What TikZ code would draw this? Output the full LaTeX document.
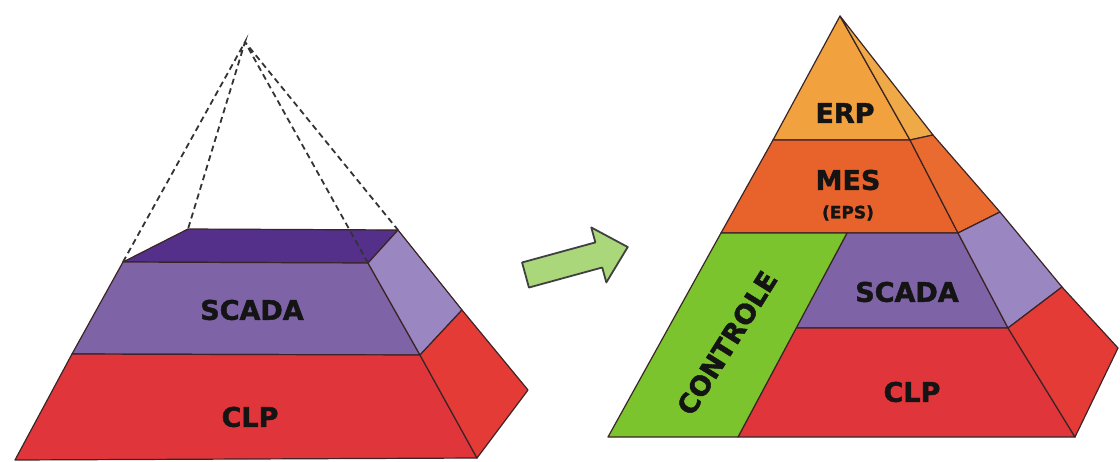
\documentclass[tikz,border=0pt]{standalone}
\usepackage{fontspec}
\setmainfont{DejaVu Sans}[BoldFeatures={FakeBold=1.6}]
\definecolor{scadafront}{HTML}{7E64A6}
\definecolor{scadaside}{HTML}{9A86C0}
\definecolor{scadatop}{HTML}{55308A}
\definecolor{clpfront}{HTML}{E0353B}
\definecolor{clpside}{HTML}{E43B36}
\definecolor{erpfront}{HTML}{F1A23F}
\definecolor{erpside}{HTML}{F0A947}
\definecolor{mesfront}{HTML}{E8632B}
\definecolor{messide}{HTML}{E96B30}
\definecolor{ctrlgreen}{HTML}{7CC42E}
\definecolor{arrowgreen}{HTML}{A9D77A}
\definecolor{edge}{HTML}{3B2426}
\begin{document}
\begin{tikzpicture}[x=1pt,y=-1pt,
    face/.style={draw=edge,line width=1.2pt,line join=round},
    guide/.style={draw=black!80,dash pattern=on 6pt off 4pt,line width=1.8pt},
    lbl/.style={font=\bfseries\fontsize{27}{29}\selectfont,text=black!92}]
  \useasboundingbox (0,0) rectangle (1120,461);
  % left pyramid
  \coordinate (LA) at (245,42);
  \coordinate (LTL) at (123,262);
  \coordinate (LTR) at (368,263);
  \coordinate (LBL) at (188,229);
  \coordinate (LBR) at (398,230);
  \coordinate (LML) at (72,354);
  \coordinate (LMR) at (420,355);
  \coordinate (LSM) at (462,310);
  \coordinate (LSB) at (528,390);
  \coordinate (LDL) at (15,460);
  \coordinate (LDR) at (477,458);
  \fill[face,fill=scadatop] (LTL) -- (LBL) -- (LBR) -- (LTR) -- cycle;
  \fill[face,fill=scadafront] (LTL) -- (LTR) -- (LMR) -- (LML) -- cycle;
  \fill[face,fill=scadaside] (LTR) -- (LBR) -- (LSM) -- (LMR) -- cycle;
  \fill[face,fill=clpfront] (LML) -- (LMR) -- (LDR) -- (LDL) -- cycle;
  \fill[face,fill=clpside] (LMR) -- (LSM) -- (LSB) -- (LDR) -- cycle;
  \draw[guide] (LTL) -- (LA) -- (LBL);
  \draw[guide] (LTR) -- (LA) -- (LBR);
  \node[lbl] (lscada) at (252,310) {SCADA};
  \node[lbl] (lclp) at (250,417) {CLP};
  % arrow
  \begin{scope}[shift={(525.5,275)},rotate=15.3]
    \filldraw[fill=arrowgreen,draw=black!75,line width=1.8pt,line join=round]
      (0,-13) -- (76,-13) -- (76,-28.5) -- (106,0) -- (76,28.5) -- (76,13) -- (0,13) -- cycle;
  \end{scope}
  % right pyramid
  \coordinate (RA) at (840,16);
  \coordinate (F1) at (910,140);
  \coordinate (F2) at (958,233);
  \coordinate (F3) at (1008,328);
  \coordinate (F4) at (1075,437);
  \coordinate (B1) at (933,135);
  \coordinate (B2) at (1000,212);
  \coordinate (B3) at (1062,287);
  \coordinate (B4) at (1118,348);
  \coordinate (E1) at (773,140);
  \coordinate (E2) at (721,233);
  \coordinate (E4) at (608,437);
  \coordinate (G2) at (847,233);
  \coordinate (G3) at (796,328);
  \coordinate (G4) at (738,437);
  \fill[face,fill=erpfront] (RA) -- (F1) -- (E1) -- cycle;
  \fill[face,fill=erpside] (RA) -- (B1) -- (F1) -- cycle;
  \fill[face,fill=mesfront] (E1) -- (F1) -- (F2) -- (E2) -- cycle;
  \fill[face,fill=messide] (F1) -- (B1) -- (B2) -- (F2) -- cycle;
  \fill[face,fill=scadafront] (G2) -- (F2) -- (F3) -- (G3) -- cycle;
  \fill[face,fill=scadaside] (F2) -- (B2) -- (B3) -- (F3) -- cycle;
  \fill[face,fill=clpfront] (G3) -- (F3) -- (F4) -- (G4) -- cycle;
  \fill[face,fill=clpside] (F3) -- (B3) -- (B4) -- (F4) -- cycle;
  \fill[face,fill=ctrlgreen] (E2) -- (G2) -- (G4) -- (E4) -- cycle;
  \node[lbl] (rerp) at (845,113) {ERP};
  \node[lbl] (rmes) at (848,180) {MES};
  \node[lbl,font=\bfseries\fontsize{17}{19}\selectfont] (reps) at (848,213) {(EPS)};
  \node[lbl] (rscada) at (907,292) {SCADA};
  \node[lbl] (rclp) at (912,392) {CLP};
  \node[lbl,rotate=58,inner sep=0pt] (rctrl) at (727,343) {CONTROLE};
\end{tikzpicture}
\end{document}
